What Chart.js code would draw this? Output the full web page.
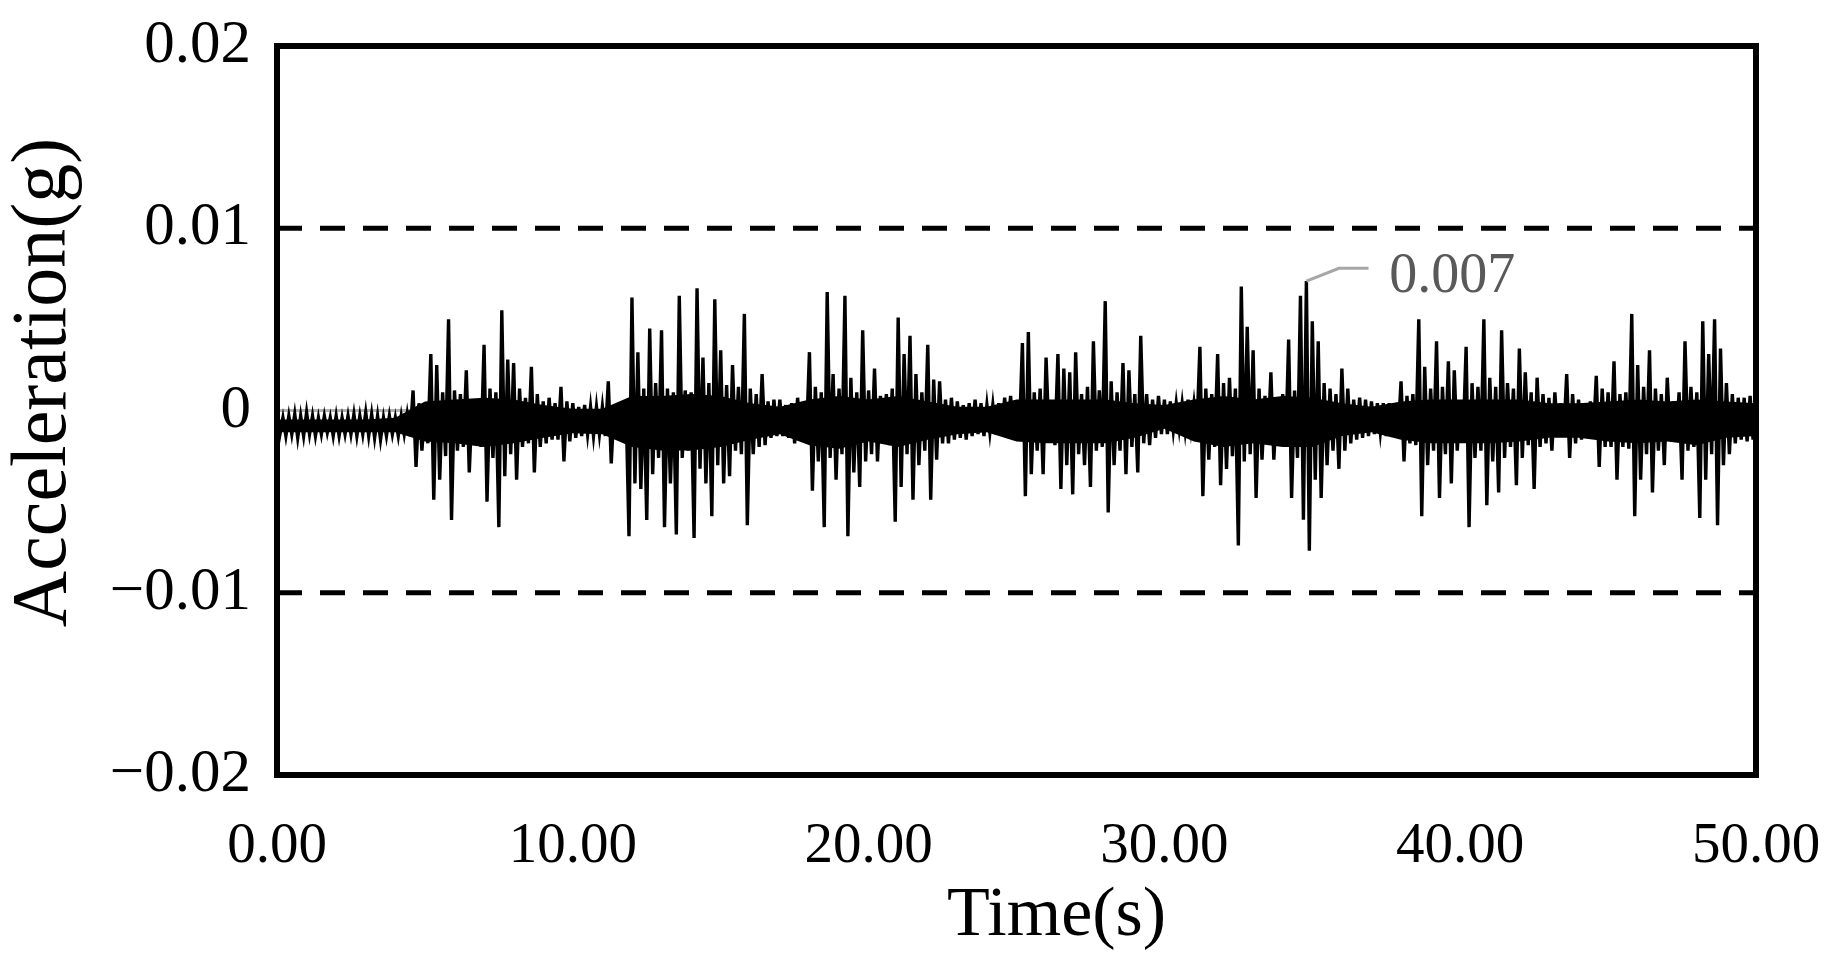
<!DOCTYPE html>
<html>
<head>
<meta charset="utf-8">
<script src="https://cdn.jsdelivr.net/npm/chart.js@4.4.1/dist/chart.umd.min.js"></script>
<style>
	html, body { margin: 0; padding: 0; background: #fff; }
	canvas { display: block; }
</style>
</head>
<body>
<canvas id="chart" width="1828" height="970"></canvas>
<script>
// sampling of the record (s) and read-off values in milli-g, one row per second
const sampleStep = 0.1;
const accelMilliG = [
	-0.3,-1.3,-0.4,-1.4,-0.3,-1.3,-0.2,-1.5,-0.3,-1.4,
	-0.1,-1.3,-0.3,-1.4,-0.4,-1.3,-0.3,-1.2,-0.4,-1.4,
	-0.3,-1.4,-0.4,-1.3,-0.3,-1.3,-0.2,-1.4,-0.3,-1.3,
	-0.1,-1.4,-0.2,-1.5,-0.3,-1.6,-0.4,-1.4,-0.3,-1.3,
	-0.4,-1.4,-0.3,-1.3,-0.2,-1.4,1.1,-3.1,0.4,-2.2,
	0.3,-1.8,3.1,-4.9,2.5,-3.8,1.0,-2.5,5.0,-6.0,
	1.1,-2.2,0.9,-2.0,2.2,-3.4,0.5,-1.8,0.6,-2.0,
	3.6,-5.0,1.2,-2.6,1.0,-6.4,5.5,-3.6,2.8,-2.4,
	2.6,-3.8,1.2,-2.0,0.7,-1.8,2.4,-3.4,0.9,-2.0,
	0.5,-1.8,0.7,-1.6,0.4,-1.6,1.3,-2.8,0.5,-1.7,
	0.4,-1.5,0.2,-1.4,0.3,-1.3,0.2,-1.4,0.2,-1.3,
	0.2,-1.4,1.6,-2.9,0.3,-1.6,0.2,-1.4,0.3,-6.9,
	6.2,-4.0,3.2,-4.3,1.2,-6.0,4.5,-3.5,1.5,-2.6,
	4.4,-6.4,1.2,-4.0,1.0,-6.8,6.3,-2.6,1.1,-2.2,
	1.0,-7.0,6.7,-3.2,2.9,-4.0,1.5,-5.8,6.1,-3.0,
	3.3,-4.0,1.4,-3.6,2.5,-2.2,1.3,-2.4,5.3,-6.3,
	1.2,-2.4,0.9,-2.0,2.0,-1.9,0.5,-1.5,0.6,-1.4,
	0.6,-1.4,0.3,-1.5,0.4,-1.8,0.7,-1.4,0.4,-1.5,
	3.2,-4.4,1.3,-2.8,1.0,-6.4,6.5,-2.6,2.0,-3.8,
	1.2,-2.4,6.3,-6.9,1.8,-3.4,1.0,-4.2,4.4,-2.8,
	1.1,-2.4,2.3,-2.8,0.8,-1.8,0.9,-1.9,1.2,-6.1,
	5.1,-4.2,3.1,-2.4,4.1,-4.9,2.0,-3.0,1.0,-2.2,
	3.6,-4.9,1.7,-2.7,1.6,-1.8,0.6,-1.8,0.7,-1.6,
	0.5,-1.5,0.3,-1.6,0.4,-1.4,0.6,-1.3,0.4,-1.4,
	0.3,-1.2,0.3,-1.3,0.4,-1.2,0.7,-1.3,0.8,-1.4,
	0.4,-1.2,3.7,-4.7,4.3,-3.5,1.0,-2.2,1.2,-3.5,
	2.9,-1.6,0.5,-1.9,3.1,-4.3,2.3,-3.0,2.1,-4.6,
	3.2,-2.4,0.9,-3.0,1.3,-4.2,3.8,-2.2,1.1,-2.0,
	6.0,-5.6,1.6,-3.0,1.0,-2.2,2.6,-3.5,2.2,-2.0,
	0.9,-3.4,4.1,-1.8,0.9,-1.9,0.6,-1.5,0.8,-1.3,
	0.6,-1.3,0.5,-1.1,0.4,-1.0,0.4,-1.1,0.6,-1.0,
	0.4,-1.1,3.5,-4.7,1.2,-2.7,0.9,-2.0,3.1,-4.1,
	1.5,-3.2,1.8,-2.5,1.2,-7.4,6.8,-2.8,4.6,-2.4,
	3.3,-4.8,1.2,-2.7,0.8,-1.8,2.1,-2.7,0.6,-1.9,
	0.9,-2.0,3.9,-4.8,1.1,-2.6,6.3,-6.0,7.1,-7.7,
	4.9,-3.8,3.8,-4.8,1.5,-3.0,1.2,-2.2,0.9,-3.2,
	2.3,-2.2,1.2,-1.8,0.6,-1.6,0.7,-1.5,0.6,-1.4,
	0.5,-1.3,0.4,-1.2,0.4,-1.4,0.4,-1.3,0.3,-1.4,
	1.6,-2.8,0.8,-1.8,0.9,-1.9,5.0,-5.8,2.4,-3.0,
	1.2,-2.2,3.8,-4.8,1.3,-2.4,2.7,-4.0,2.2,-2.2,
	0.5,-1.6,3.5,-6.4,1.5,-2.6,1.3,-2.2,5.0,-5.2,
	1.8,-2.8,1.3,-4.5,4.4,-2.6,1.5,-2.0,1.2,-4.1,
	3.4,-2.6,2.1,-1.9,1.0,-4.3,1.8,-2.0,0.9,-1.8,
	0.7,-2.2,1.0,-1.4,0.4,-1.4,2.0,-2.6,0.9,-1.8,
	0.6,-1.6,0.4,-1.4,0.5,-1.5,1.9,-3.1,1.2,-2.0,
	1.0,-2.0,2.7,-3.8,0.9,-2.0,1.0,-2.1,5.3,-5.8,
	2.5,-3.8,1.3,-2.4,3.3,-4.5,1.2,-2.2,0.9,-3.0,
	1.8,-1.6,0.5,-1.6,1.0,-3.8,3.8,-2.2,1.3,-2.0,
	1.0,-5.9,4.9,-3.8,3.1,-2.4,5.0,-6.3,3.4,-3.0,
	1.5,-2.4,0.9,-1.8,0.7,-1.6,0.7,-1.7,0.8,-1.6,
	0.6
];

// solid core of the trace, read once per second (milli-g)
const coreUpperMilliG = [
	-0.5,-0.5,-0.5,-0.5,-0.4,0.5,0.6,0.7,0.6,0.3,
	0.1,0.1,0.8,0.8,0.9,0.8,0.4,0.2,0.6,0.8,
	0.6,0.8,0.5,0.2,0.2,0.6,0.6,0.6,0.6,0.4,
	0.3,0.6,0.8,0.6,0.8,0.7,0.4,0.2,0.5,0.6,
	0.6,0.6,0.6,0.4,0.4,0.5,0.6,0.5,0.6,0.5,
	0.4
];
const coreLowerMilliG = [
	-1.2,-1.2,-1.2,-1.2,-1.2,-1.7,-1.8,-2.0,-1.8,-1.5,
	-1.25,-1.3,-2.0,-2.2,-2.2,-2.0,-1.6,-1.3,-1.9,-2.1,
	-1.7,-2.0,-1.6,-1.3,-1.2,-1.7,-1.8,-1.8,-1.8,-1.5,
	-1.0,-1.7,-2.0,-1.8,-2.0,-2.0,-1.4,-1.2,-1.6,-1.8,
	-1.8,-1.8,-1.7,-1.5,-1.5,-1.7,-1.8,-1.7,-1.9,-1.5,
	-1.4
];

const xTicks = [0, 10, 20, 30, 40, 50];
const yTicks = [-0.02, -0.01, 0, 0.01, 0.02];
const limitLines = [0.01, -0.01];
const timeRange = [0, 50];

// peak call-out
const peakLabel = '0.007';
const leaderTime = [34.8, 35.9, 36.9];
const leaderValue = [0.0071, 0.0078, 0.0078];
const peakLabelAt = [37.6, 0.0073];

const xTitle = 'Time(s)';
const yTitle = 'Acceleration(g)';

const serif = "'Liberation Serif', 'Times New Roman', serif";

function fmtY(v) {
	if (Math.abs(v) < 1e-9) return '0';
	return (v < 0 ? '\u2212' : '') + Math.abs(v).toFixed(2);
}

const signal = accelMilliG.map((v, i) => ({ x: +(i * sampleStep).toFixed(1), y: v / 1000 }));
const coreUpper = coreUpperMilliG.map((v, i) => ({ x: i, y: v / 1000 }));
const coreLower = coreLowerMilliG.map((v, i) => ({ x: i, y: v / 1000 }));

const framePlugin = {
	id: 'frame',
	afterDraw(chart) {
		const { ctx, chartArea: a, scales } = chart;
		ctx.save();
		ctx.strokeStyle = '#000';
		ctx.lineWidth = 6;
		ctx.strokeRect(a.left, a.top, a.right - a.left, a.bottom - a.top);

		ctx.fillStyle = '#000';
		ctx.font = '70px ' + serif;
		ctx.textAlign = 'center';
		ctx.textBaseline = 'alphabetic';
		ctx.fillText(xTitle, (a.left + a.right) / 2 + 40, a.bottom + 160);

		ctx.font = '78px ' + serif;
		ctx.translate(a.left - 212, (a.top + a.bottom) / 2 - 28);
		ctx.rotate(-Math.PI / 2);
		ctx.fillText(yTitle, 0, 0);
		ctx.restore();

		ctx.save();
		ctx.fillStyle = '#595959';
		ctx.font = '56px ' + serif;
		ctx.textAlign = 'left';
		ctx.textBaseline = 'middle';
		ctx.fillText(peakLabel, scales.x.getPixelForValue(peakLabelAt[0]), scales.y.getPixelForValue(peakLabelAt[1]));
		ctx.restore();
	}
};

new Chart(document.getElementById('chart'), {
	type: 'line',
	data: {
		datasets: [
			{
				data: leaderTime.map((t, i) => ({ x: t, y: leaderValue[i] })),
				borderColor: '#a6a6a6',
				borderWidth: 3,
				pointRadius: 0
			},
			{
				data: signal,
				borderColor: '#000',
				borderWidth: 3.4,
				pointRadius: 0
			},
			{
				data: coreUpper,
				borderColor: '#000',
				borderWidth: 0,
				backgroundColor: '#000',
				fill: '+1',
				pointRadius: 0
			},
			{
				data: coreLower,
				borderColor: '#000',
				borderWidth: 0,
				pointRadius: 0
			},
			...limitLines.map((v) => ({
				data: timeRange.map((t) => ({ x: t, y: v })),
				borderColor: '#000',
				borderWidth: 5,
				borderDash: [25, 18],
				pointRadius: 0
			})),
			{
				data: timeRange.map((t) => ({ x: t, y: 0 })),
				borderColor: '#b3b3b3',
				borderWidth: 3,
				pointRadius: 0
			}
		]
	},
	options: {
		responsive: false,
		devicePixelRatio: 1,
		animation: false,
		layout: { padding: { top: 46, right: 72, left: 0, bottom: 0 } },
		plugins: {
			legend: { display: false },
			tooltip: { enabled: false }
		},
		scales: {
			x: {
				type: 'linear',
				min: timeRange[0],
				max: timeRange[1],
				grid: { display: false, drawTicks: false },
				border: { display: false },
				afterFit: (scale) => {
					scale.height = 195;
					scale.paddingLeft = 0;
					scale.paddingRight = 0;
				},
				afterBuildTicks: (scale) => { scale.ticks = xTicks.map((v) => ({ value: v })); },
				ticks: {
					color: '#000',
					padding: 38,
					maxRotation: 0,
					font: { family: serif, size: 57 },
					callback: (v) => Number(v).toFixed(2)
				}
			},
			y: {
				min: yTicks[0],
				max: yTicks[yTicks.length - 1],
				grid: { display: false, drawTicks: false },
				border: { display: false },
				afterFit: (scale) => {
					scale.width = 277;
					scale.paddingTop = 0;
					scale.paddingBottom = 0;
				},
				afterBuildTicks: (scale) => { scale.ticks = yTicks.map((v) => ({ value: v })); },
				ticks: {
					color: '#000',
					padding: 26,
					font: { family: serif, size: 61 },
					callback: (v) => fmtY(v)
				}
			}
		}
	},
	plugins: [framePlugin]
});
</script>
</body>
</html>
